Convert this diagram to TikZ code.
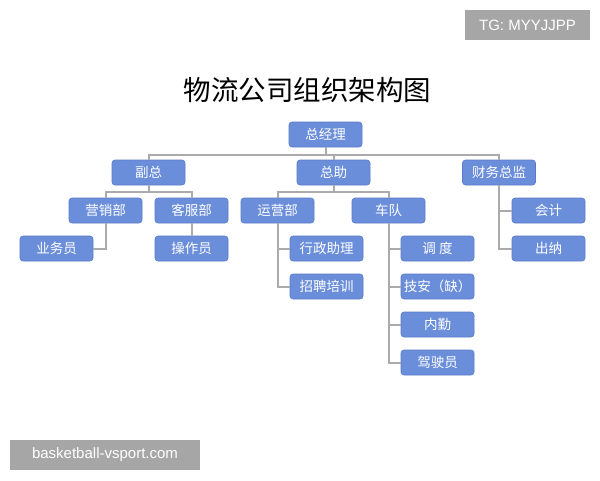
\documentclass[tikz,border=0pt]{standalone}
\usepackage{fontspec}
\newfontfamily\cjk{Noto Sans CJK SC}
\setsansfont{Liberation Sans}
\definecolor{boxblue}{HTML}{6B8EDB}
\definecolor{boxedge}{HTML}{5A7BC8}
\definecolor{linegray}{HTML}{ABABAB}
\definecolor{wmgray}{HTML}{A6A6A6}
\begin{document}
\begin{tikzpicture}[x=1pt,y=-1pt,
  orgbox/.style={rectangle, rounded corners=3pt, minimum width=73pt, minimum height=25pt,
    inner sep=0pt, fill=boxblue, draw=boxedge, line width=0.6pt, text=white,
    font=\cjk\fontsize{13.5}{14}\selectfont},
  link/.style={draw=linegray, line width=2pt},
  wm/.style={fill=wmgray, text=white, inner sep=0pt, font=\sffamily\fontsize{15}{16}\selectfont}]
\useasboundingbox (0,0) rectangle (600,480);
\fill[white] (0,0) rectangle (600,480);
% watermarks
\node[wm, minimum width=125pt, minimum height=30pt] (tg) at (527.5,25) {TG: MYYJJPP};
\node[wm, minimum width=190pt, minimum height=30pt] (bs) at (105,455) {basketball-vsport.com};
% title
\node[font=\cjk\fontsize{27.5}{29}\selectfont] (title) at (307.5,90) {物流公司组织架构图};
% connectors
\coordinate (h1) at (325.5,155);
\coordinate (h2) at (148.5,192);
\coordinate (h3) at (333.5,192);
% nodes
\node[orgbox] (gm) at (325.5,134.5) {总经理};
\node[orgbox] (fz) at (148.5,172.5) {副总};
\node[orgbox] (zz) at (333.5,172.5) {总助};
\node[orgbox] (cw) at (499,172.5) {财务总监};
\node[orgbox] (yx) at (105.5,210.5) {营销部};
\node[orgbox] (kf) at (191.5,210.5) {客服部};
\node[orgbox] (yy) at (277.5,210.5) {运营部};
\node[orgbox] (cd) at (388.5,210.5) {车队};
\node[orgbox] (kj) at (548.5,210.5) {会计};
\node[orgbox] (yw) at (56.5,248.5) {业务员};
\node[orgbox] (cz) at (191.5,248.5) {操作员};
\node[orgbox] (xz) at (326.5,248.5) {行政助理};
\node[orgbox] (zp) at (326.5,286.5) {招聘培训};
\node[orgbox] (dd) at (437.5,248.5) {调\ 度};
\node[orgbox] (ja) at (437.5,286.5) {技安（缺）};
\node[orgbox] (nq) at (437.5,324.5) {内勤};
\node[orgbox] (js) at (437.5,362.5) {驾驶员};
\node[orgbox] (cn) at (548.5,248.5) {出纳};
\draw[link] (gm.south) -- (h1);
\draw[link] (fz.north) |- (h1) -| (cw.north);
\draw[link] (zz.north) -- (zz.north |- h1);
\draw[link] (fz.south) -- (h2);
\draw[link] (yx.north) |- (h2) -| (kf.north);
\draw[link] (zz.south) -- (h3);
\draw[link] (yy.north) |- (h3) -| (cd.north);
\draw[link] (yx.south) |- (yw.east);
\draw[link] (kf.south) -- (cz.north);
\draw[link] (yy.south) |- (xz.west);
\draw[link] (yy.south) |- (zp.west);
\draw[link] (cd.south) |- (dd.west);
\draw[link] (cd.south) |- (ja.west);
\draw[link] (cd.south) |- (nq.west);
\draw[link] (cd.south) |- (js.west);
\draw[link] (cw.south) |- (kj.west);
\draw[link] (cw.south) |- (cn.west);
\end{tikzpicture}
\end{document}
